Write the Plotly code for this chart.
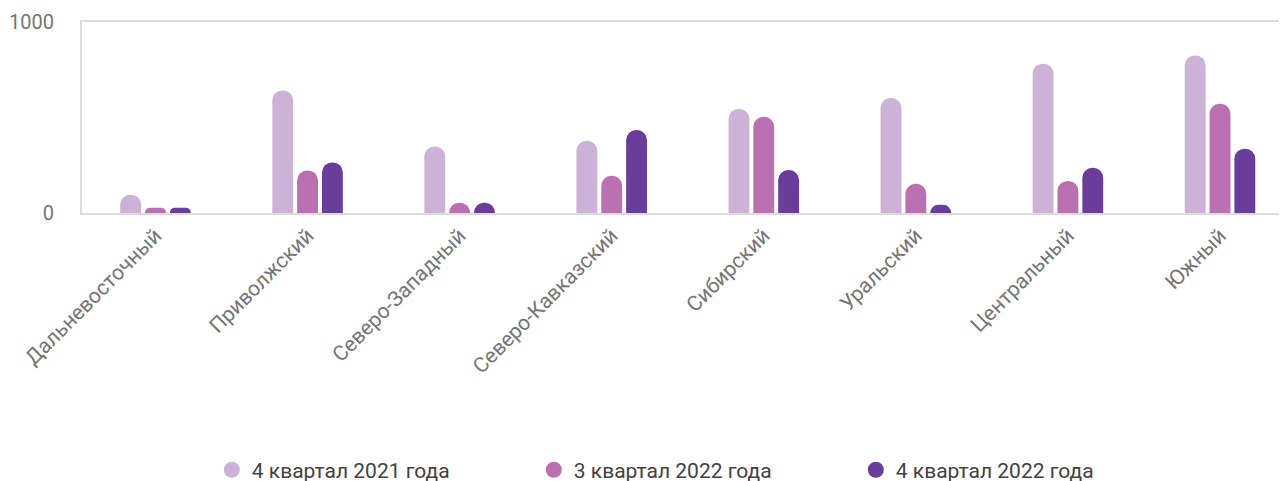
import plotly.graph_objects as go

categories = ["Дальневосточный", "Приволжский", "Северо-Западный", "Северо-Кавказский",
              "Сибирский", "Уральский", "Центральный", "Южный"]
series_names = ["4 квартал 2021 года", "3 квартал 2022 года", "4 квартал 2022 года"]
q4_2021 = [96, 642, 348, 378, 545, 602, 782, 825]
q3_2022 = [28, 223, 54, 195, 504, 153, 168, 572]
q4_2022 = [28, 265, 54, 434, 225, 43, 237, 337]
y_ticks = [0, 1000]

colors = ["#CBB2D6", "#B971B2", "#6B3D9A"]
values = [q4_2021, q3_2022, q4_2022]

fig = go.Figure()
for name, vals, col in zip(series_names, values, colors):
    fig.add_trace(go.Bar(x=list(range(len(categories))), y=vals, name=name,
                         marker=dict(color=col, line=dict(width=0)),
                         showlegend=False, hoverinfo="y"))
for name, col in zip(series_names, colors):
    fig.add_trace(go.Scatter(x=[None], y=[None], mode="markers", name=name,
                             marker=dict(symbol="circle", size=20, color=col)))

fig.update_layout(
    width=1279, height=473,
    margin=dict(l=74, r=0, t=14, b=268),
    paper_bgcolor="white", plot_bgcolor="white",
    barmode="group", bargap=0.51, bargroupgap=0.16,
    barcornerradius="50%",
    font=dict(family="Roboto", color="#757575"),
    xaxis=dict(
        tickmode="array", tickvals=list(range(len(categories))), ticktext=categories,
        range=[-0.4833, 7.4406], tickangle=-45, tickfont=dict(size=21, color="#757575"),
        showline=True, mirror=True, linecolor="#DCDCDC", linewidth=2,
        showgrid=False, zeroline=False, ticks="", automargin=False,
    ),
    yaxis=dict(
        range=[0, 1000], tickmode="array", tickvals=y_ticks,
        tickfont=dict(size=20, color="#757575"),
        showline=True, linecolor="#DCDCDC", linewidth=2,
        showgrid=False, zeroline=False, ticks="", ticklabelstandoff=22, automargin=False,
    ),
    legend=dict(
        orientation="h", xref="container", yref="container",
        x=0.537, xanchor="center", y=0.023, yanchor="middle",
        font=dict(size=21, color="#424242"),
        entrywidth=277, itemsizing="trace",
    ),
)

fig.write_html("out.html")
